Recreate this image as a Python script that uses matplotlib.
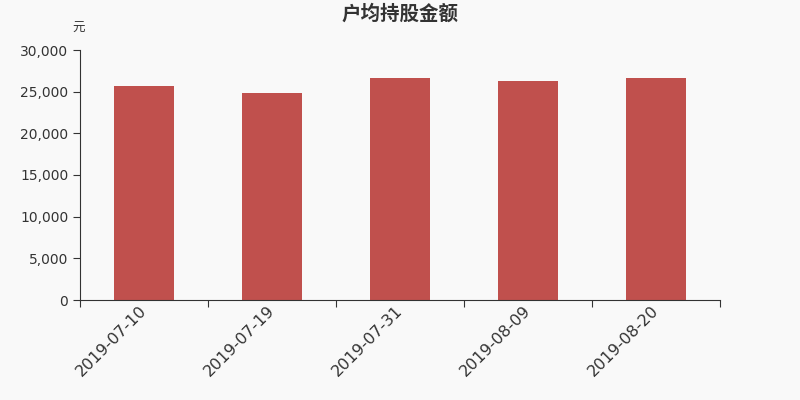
import matplotlib
matplotlib.use("Agg")
import matplotlib.pyplot as plt
import matplotlib.transforms as mtransforms
from matplotlib.ticker import FuncFormatter, FixedLocator

plt.rcParams['font.family'] = ['Noto Sans CJK SC', 'DejaVu Sans']

dates = ["2019-07-10", "2019-07-19", "2019-07-31", "2019-08-09", "2019-08-20"]
values = [25680, 24800, 26600, 26320, 26640]
title = "户均持股金额"
unit = "元"

bg = "#f9f9f9"
fig = plt.figure(figsize=(8, 4), dpi=100, facecolor=bg)
ax = fig.add_axes([0.1, 0.25, 0.8, 0.625], facecolor=bg)

x = list(range(len(dates)))
ax.bar(x, values, width=0.47, color="#c0504d")

ax.set_xlim(-0.5, len(dates) - 0.5)
ax.set_ylim(0, 30000)
ax.set_yticks([0, 5000, 10000, 15000, 20000, 25000, 30000])
ax.yaxis.set_major_formatter(FuncFormatter(lambda v, p: f"{int(v):,}"))

ax.xaxis.set_major_locator(FixedLocator([i - 0.5 for i in range(len(dates) + 1)]))
ax.xaxis.set_minor_locator(FixedLocator(x))
ax.set_xticklabels([], minor=False)
ax.set_xticklabels(dates, minor=True, rotation=45, ha='right', rotation_mode='anchor',
                   fontsize=11.5, color="#333333", family=['DejaVu Sans'])
ax.tick_params(axis='x', which='minor', length=0, pad=2)
ax.tick_params(axis='x', which='major', length=5, color="#333333")
ax.tick_params(axis='y', length=5, color="#333333", labelsize=10, labelcolor="#333333")
for lab in ax.get_yticklabels():
    lab.set_family(['DejaVu Sans'])
offset = mtransforms.ScaledTranslation(-5 / 100, 0, fig.dpi_scale_trans)
for lab in ax.xaxis.get_minorticklabels():
    lab.set_transform(lab.get_transform() + offset)

for s in ['top', 'right']:
    ax.spines[s].set_visible(False)
for s in ['left', 'bottom']:
    ax.spines[s].set_color("#333333")

fig.text(0.5, 1 - 14 / 400, title, ha='center', va='center', fontsize=14,
         fontweight='bold', color="#333333")
fig.text(0.1 - 1 / 800, 1 - 28 / 400, unit, ha='center', va='center', fontsize=9,
         color="#333333")

fig.savefig("out.png", dpi=100, facecolor=bg)
